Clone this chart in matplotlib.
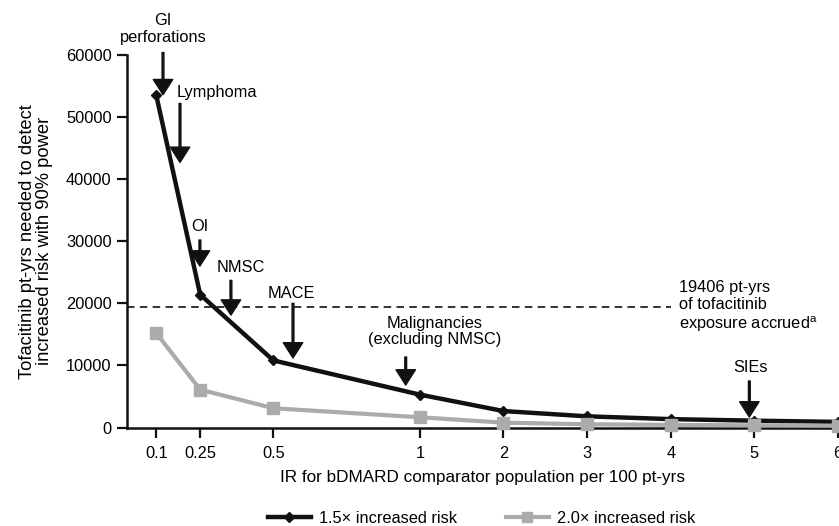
import numpy as np
import matplotlib
matplotlib.use("Agg")
import matplotlib.pyplot as plt
from matplotlib.lines import Line2D

plt.rcParams['font.family'] = ['Liberation Sans', 'DejaVu Sans']

# ---- data ----
ir_values = [0.1, 0.25, 0.5, 1, 2, 3, 4, 5, 6]
tick_labels = ["0.1", "0.25", "0.5", "1", "2", "3", "4", "5", "6"]
risk_15 = [53500, 21400, 10800, 5300, 2650, 1800, 1350, 1100, 900]
risk_20 = [15200, 6100, 3100, 1650, 780, 520, 420, 350, 300]
exposure_accrued = 19406
series_labels = ["1.5\u00d7 increased risk", "2.0\u00d7 increased risk"]

# annotation labels: (text, text_x, text_y, ha, arrow_x, arrow_top, arrow_tip)
annotations = [
    ("GI\nperforations", 0.123, 64200, "center", 0.123, 60400, 53600),
    ("Lymphoma", 0.171, 54000, "left", 0.181, 52200, 42700),
    ("OI", 0.249, 32300, "center", 0.249, 30200, 26000),
    ("NMSC", 0.389, 25700, "center", 0.355, 23700, 18100),
    ("MACE", 0.563, 21650, "center", 0.567, 20000, 11200),
    ("Malignancies\n(excluding NMSC)", 1.18, 15450, "center", 0.952, 11350, 6840),
    ("SIEs", 4.96, 9740, "center", 4.94, 7490, 1690),
]

BLACK = "#111111"
GRAY = "#ababab"
FS = 11.8


def fwd(x):
    x = np.asarray(x, dtype=float)
    return np.where(x <= 1, 3.5 * x, 2.5 + x)


def inv(y):
    y = np.asarray(y, dtype=float)
    return np.where(y <= 3.5, y / 3.5, y - 2.5)


fig = plt.figure(figsize=(8.39, 5.26), dpi=100)
ax = fig.add_axes([127 / 839, (526 - 427.5) / 526, (838 - 127) / 839, (427.5 - 55) / 526])
ax.set_xscale('function', functions=(fwd, inv))

ax.plot(ir_values, risk_20, color=GRAY, lw=3.0, marker='s', ms=9, mec=GRAY, mfc=GRAY,
        zorder=4, clip_on=False, label=series_labels[1])
ax.plot(ir_values, risk_15, color=BLACK, lw=3.2, marker='D', ms=5, mec=BLACK, mfc=BLACK,
        zorder=3, clip_on=False, label=series_labels[0])

ax.plot([0, 4], [exposure_accrued, exposure_accrued], color=BLACK, lw=1.2,
        linestyle=(0, (4.5, 3.2)), zorder=2)
ax.text(4.1, exposure_accrued, "19406 pt-yrs\nof tofacitinib\nexposure accrued$^\\mathregular{a}$",
        ha='left', va='center', fontsize=FS, linespacing=1.2)

for text, tx, ty, ha, axx, atop, atip in annotations:
    ax.text(tx, ty, text, ha=ha, va='center', fontsize=FS, linespacing=1.12,
            clip_on=False, zorder=6)
    ax.annotate("", xy=(axx, atip), xytext=(axx, atop),
                arrowprops=dict(facecolor=BLACK, edgecolor=BLACK, width=1.3,
                                headwidth=14, headlength=11, shrink=0),
                annotation_clip=False, zorder=6)

ax.set_xlim(0, 6)
ax.set_ylim(0, 60000)
ax.set_xticks(ir_values)
ax.set_xticklabels(tick_labels)
ax.set_yticks(np.arange(0, 60001, 10000))
ax.tick_params(axis='both', direction='out', length=7, width=1.6, labelsize=FS, pad=4,
               color=BLACK)
ax.tick_params(axis='x', pad=6)
for s in ['top', 'right']:
    ax.spines[s].set_visible(False)
for s in ['left', 'bottom']:
    ax.spines[s].set_linewidth(1.8)
    ax.spines[s].set_color(BLACK)

ax.set_xlabel("IR for bDMARD comparator population per 100 pt-yrs", fontsize=FS + 0.5, labelpad=7)
ax.set_ylabel("Tofacitinib pt-yrs needed to detect\nincreased risk with 90% power",
              fontsize=13.2, linespacing=1.05, labelpad=9)

handles = [
    Line2D([], [], color=BLACK, lw=3.2, marker='D', ms=5),
    Line2D([], [], color=GRAY, lw=3.0, marker='s', ms=7),
]
fig.legend(handles, series_labels, loc='center', bbox_to_anchor=(0.574, 0.015), ncol=2,
           frameon=False, fontsize=FS, handlelength=2.6, handletextpad=0.5, columnspacing=3.0)

fig.savefig("out.png", dpi=100)
